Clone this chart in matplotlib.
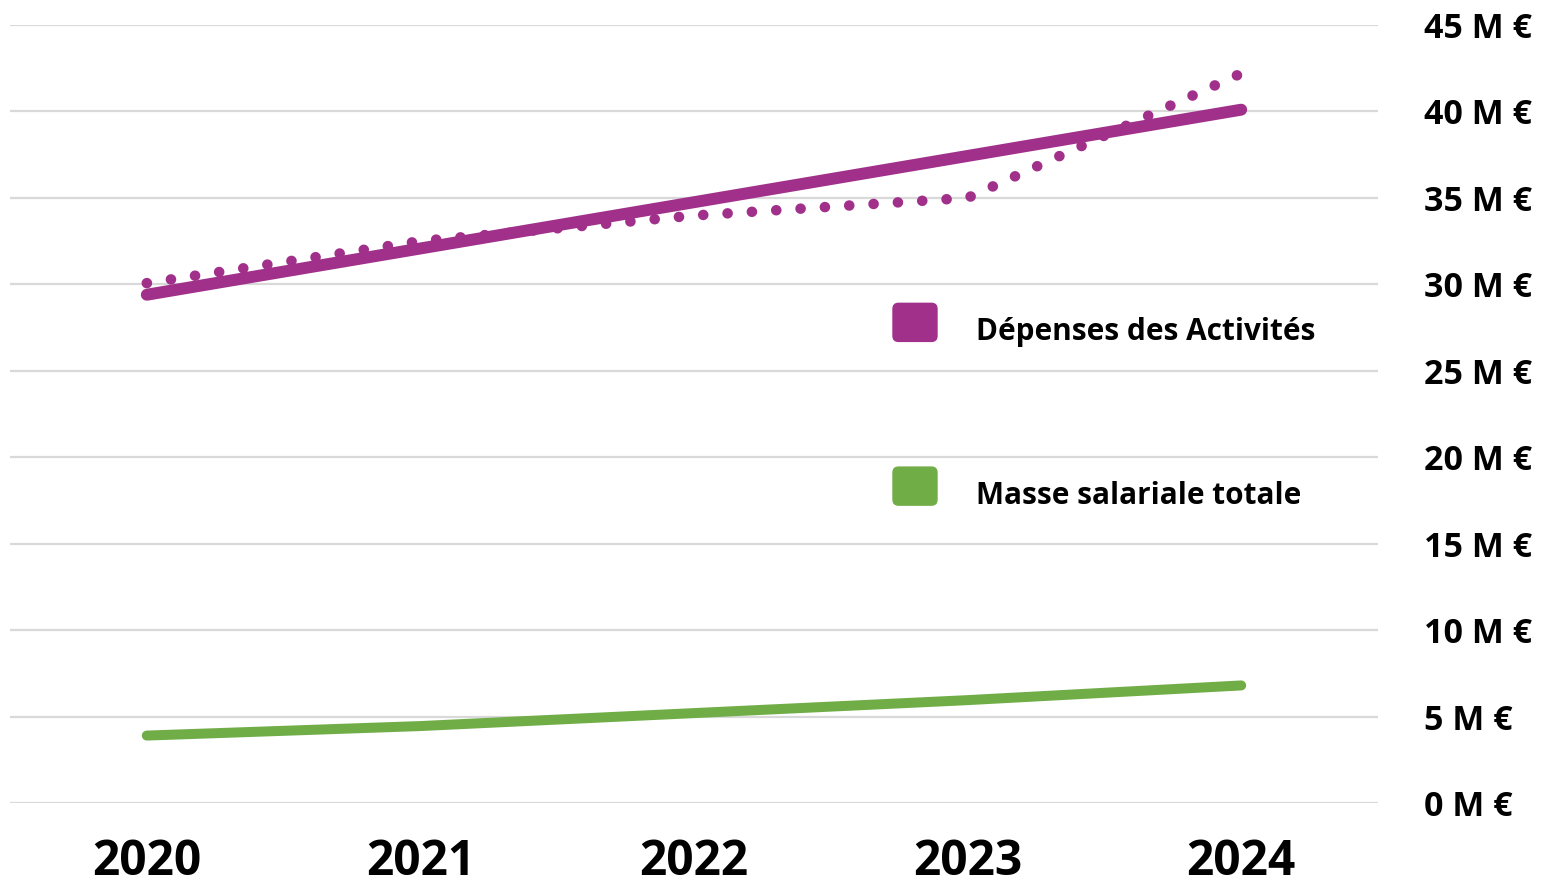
import numpy as np
import matplotlib.pyplot as plt
from matplotlib.patches import FancyBboxPatch, Patch
from matplotlib.legend_handler import HandlerPatch

# data (M €)
years = ["2020", "2021", "2022", "2023", "2024"]
depenses = [30.07, 32.5, 33.98, 35.0, 42.2]
masse_salariale = [3.9, 4.45, 5.2, 5.95, 6.8]
y_ticks = [0, 5, 10, 15, 20, 25, 30, 35, 40, 45]
y_tick_labels = [f"{v} M €" for v in y_ticks]

PURPLE = "#A0308A"
GREEN = "#70AD47"
FONT = "Open Sans"
BOX_H = 27.4  # legend square height, points


def rounded_box(legend, orig_handle, xdescent, ydescent, width, height, fontsize):
    """ legend square with soft corners, bottom on the text baseline """
    return FancyBboxPatch((-xdescent, -1.0), width, BOX_H,
                          boxstyle="round,pad=0,rounding_size=4")


x = np.arange(len(years))

fig = plt.figure(figsize=(15.44, 8.85), dpi=100)
ax = fig.add_axes([10 / 1544, 82 / 885, 1368 / 1544, 778 / 885])

# linear trend of the expenses
slope, intercept = np.polyfit(x, depenses, 1)
ax.plot(x, slope * x + intercept, color=PURPLE, lw=8.6,
        solid_capstyle="round", zorder=3)

# expenses, dotted line
ax.plot(x, depenses, color=PURPLE, lw=7.6, ls=(0, (0.01, 2.3)),
        dash_capstyle="round", zorder=4)

# total payroll
ax.plot(x, masse_salariale, color=GREEN, lw=7.2,
        solid_capstyle="round", zorder=3)

ax.set_xlim(-0.5, 4.5)
ax.set_ylim(0, 45)
ax.set_xticks(x)
ax.set_xticklabels(years, fontsize=34.5, fontweight="bold", family=FONT)
ax.set_yticks(y_ticks)
ax.set_yticklabels(y_tick_labels, fontsize=24.5, fontweight="bold",
                   family=FONT, ha="left")
ax.yaxis.tick_right()
ax.tick_params(axis="both", length=0)
ax.tick_params(axis="x", pad=25)
ax.tick_params(axis="y", pad=33)
ax.grid(axis="y", color="#D9D9D9", lw=1.6)
ax.set_axisbelow(True)
for s in ax.spines.values():
    s.set_visible(False)

handles = [Patch(color=PURPLE), Patch(color=GREEN)]
labels = ["Dépenses des Activités", "Masse salariale totale"]
fig.legend(handles, labels, loc="upper left",
           bbox_to_anchor=(893 / 1544, 1 - 317 / 885),
           frameon=False, borderpad=0, borderaxespad=0,
           prop={"family": FONT, "weight": "bold", "size": 21.4},
           handlelength=1.48, handleheight=0.7, handletextpad=1.3,
           labelspacing=4.5,
           handler_map={Patch: HandlerPatch(patch_func=rounded_box)})

fig.savefig("out.png", dpi=100)
